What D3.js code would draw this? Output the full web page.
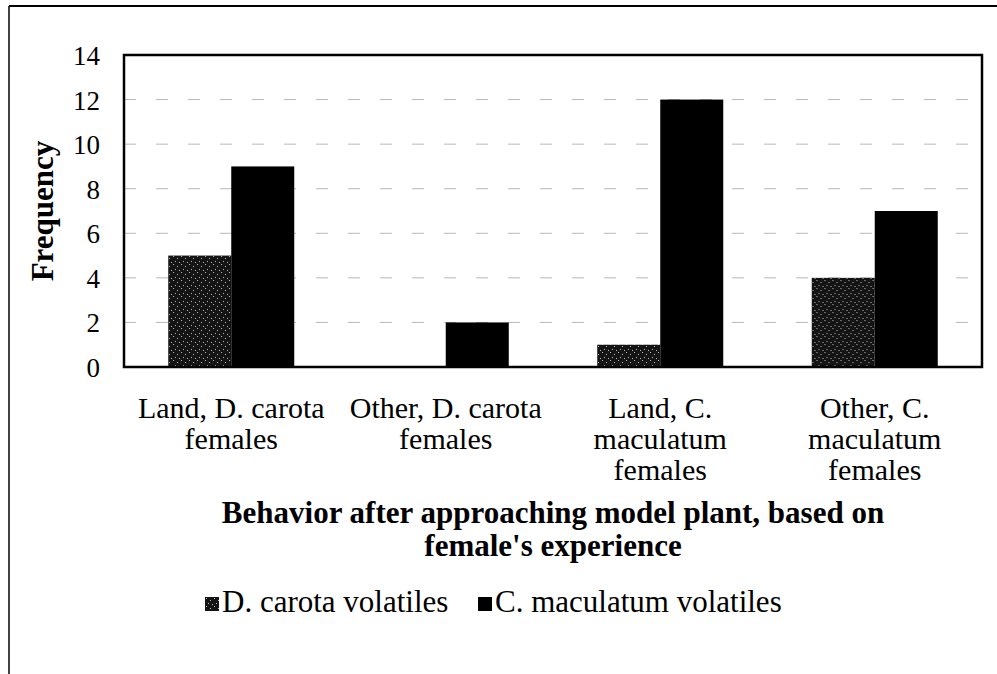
<!DOCTYPE html>
<html>
<head>
<meta charset="utf-8">
<script src="https://cdn.jsdelivr.net/npm/d3@7"></script>
<style>
  body { margin: 0; background: #fff; }
</style>
</head>
<body>
<svg id="chart" width="997" height="674"></svg>
<script>
// data
const categories = [
  ["Land, D. carota", "females"],
  ["Other, D. carota", "females"],
  ["Land, C.", "maculatum", "females"],
  ["Other, C.", "maculatum", "females"]
];
const seriesNames = ["D. carota volatiles", "C. maculatum volatiles"];
const dCarota = [5, 0, 1, 4];
const cMaculatum = [9, 2, 12, 7];
const yTicks = [0, 2, 4, 6, 8, 10, 12, 14];

const FONT = '"Liberation Serif"';

const svg = d3.select("#chart");
const margin = {left: 124, top: 55, right: 15, bottom: 307};
const width = 997 - margin.left - margin.right;
const height = 674 - margin.top - margin.bottom;

// speckled pattern for the D. carota bars
const defs = svg.append("defs");
const pat = defs.append("pattern")
  .attr("id", "speckle")
  .attr("patternUnits", "userSpaceOnUse")
  .attr("width", 8).attr("height", 8);
pat.append("rect").attr("width", 8).attr("height", 8).attr("fill", "#141414");
[[1, 1], [5, 3], [3, 6], [7, 7]].forEach(([x, y]) => {
  pat.append("rect").attr("x", x).attr("y", y).attr("width", 1).attr("height", 1).attr("fill", "#bbb");
});

// outer frame (top and left edges only visible)
svg.append("line").attr("x1", 9).attr("x2", 997).attr("y1", 6).attr("y2", 6)
  .attr("stroke", "#000").attr("stroke-width", 2);
svg.append("line").attr("x1", 9).attr("x2", 9).attr("y1", 6).attr("y2", 674)
  .attr("stroke", "#000").attr("stroke-width", 1.5);

const g = svg.append("g").attr("transform", `translate(${margin.left},${margin.top})`);

const x0 = d3.scaleBand().domain(d3.range(categories.length)).range([0, width]);
const x1 = d3.scaleBand().domain([0, 1]).range([x0.bandwidth() / 2 - 63, x0.bandwidth() / 2 + 63]);
const y = d3.scaleLinear().domain([0, 14]).range([height, 0]);

// gridlines (faint, broken)
g.selectAll(".grid").data(yTicks.filter(d => d > 0 && d < 14)).join("line")
  .attr("x1", 0).attr("x2", width)
  .attr("y1", d => y(d)).attr("y2", d => y(d))
  .attr("stroke", "#b8b8b8").attr("stroke-width", 1)
  .attr("stroke-dasharray", "12,20");

// bars
const groups = g.selectAll(".grp").data(categories).join("g")
  .attr("transform", (d, i) => `translate(${x0(i)},0)`);
groups.append("rect")
  .attr("x", x1(0)).attr("width", x1.bandwidth())
  .attr("y", (d, i) => y(dCarota[i]))
  .attr("height", (d, i) => height - y(dCarota[i]))
  .attr("fill", "url(#speckle)");
groups.append("rect")
  .attr("x", x1(1)).attr("width", x1.bandwidth())
  .attr("y", (d, i) => y(cMaculatum[i]))
  .attr("height", (d, i) => height - y(cMaculatum[i]))
  .attr("fill", "#000");

// plot frame
g.append("rect").attr("width", width).attr("height", height)
  .attr("fill", "none").attr("stroke", "#000").attr("stroke-width", 2.5);

// y axis labels
const yAxis = d3.axisLeft(y).tickValues(yTicks).tickSize(0).tickPadding(24);
g.append("g").call(yAxis)
  .call(s => s.select(".domain").remove())
  .selectAll("text")
  .attr("fill", "#000")
  .style("font-family", FONT)
  .style("font-size", "27px")
  .attr("dy", "0.35em");

// category labels
groups.append("text")
  .attr("text-anchor", "middle")
  .style("font-family", FONT)
  .style("font-size", "30px")
  .selectAll("tspan").data(d => d).join("tspan")
  .attr("x", x0.bandwidth() / 2)
  .attr("y", (d, i) => height + 51 + i * 31)
  .text(d => d);

// axis titles
svg.append("text")
  .attr("transform", `translate(53,${margin.top + height / 2}) rotate(-90)`)
  .attr("text-anchor", "middle")
  .style("font-family", FONT)
  .style("font-size", "31px").style("font-weight", "bold")
  .text("Frequency");

const xt = svg.append("text").attr("text-anchor", "middle")
  .style("font-family", FONT)
  .style("font-size", "31px").style("font-weight", "bold");
xt.append("tspan").attr("x", margin.left + width / 2).attr("y", 523)
  .text("Behavior after approaching model plant, based on");
xt.append("tspan").attr("x", margin.left + width / 2).attr("y", 556)
  .text("female's experience");

// legend
const legendX = [205, 478];
const leg = svg.selectAll(".leg").data(seriesNames).join("g")
  .attr("transform", (d, i) => `translate(${legendX[i]},597)`);
leg.append("rect").attr("width", 14).attr("height", 14)
  .attr("fill", (d, i) => i === 0 ? "url(#speckle)" : "#000");
leg.append("text").attr("x", 17).attr("y", 15)
  .style("font-family", FONT)
  .style("font-size", "31px")
  .text(d => d);
</script>
</body>
</html>
